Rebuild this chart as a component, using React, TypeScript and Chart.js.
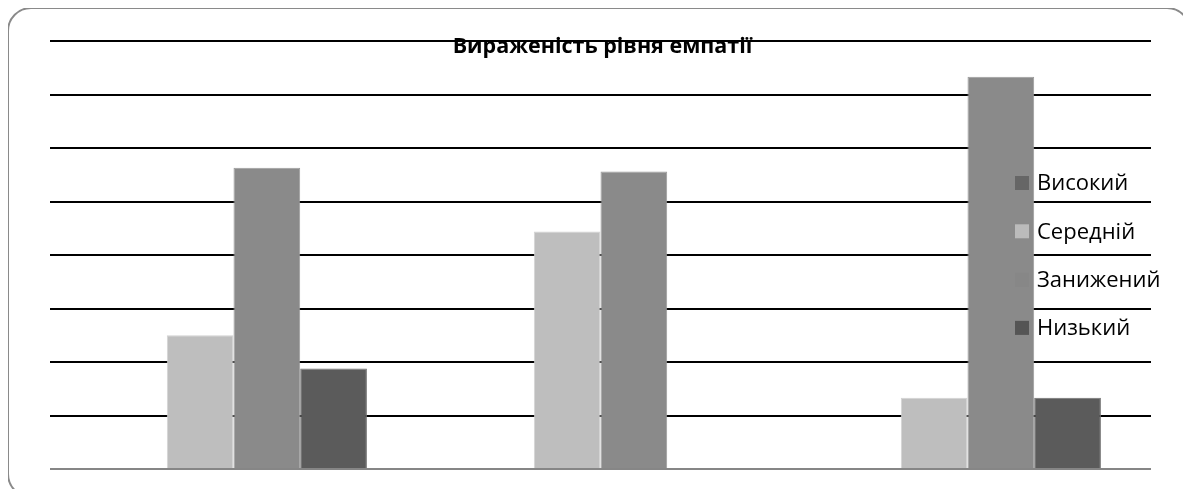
import React, { useEffect, useRef } from "react";
import { Chart, registerables } from "chart.js";

Chart.register(...registerables);

const categories = ["Група 1", "Група 2", "Група 3"];
const seriesNames = ["Високий", "Середній", "Занижений", "Низький"];
const visokyi = [0, 0, 0];
const serednii = [25, 44.4, 13.3];
const zanyzhenyi = [56.3, 55.6, 73.3];
const nyzkyi = [18.8, 0, 13.3];
const seriesValues = [visokyi, serednii, zanyzhenyi, nyzkyi];
const yTicks = [0, 10, 20, 30, 40, 50, 60, 70, 80];
const chartTitle = "Вираженість рівня емпатії";

const barColors = ["#676767", "#bebebe", "#8a8a8a", "#5b5b5b"];
const barBorders = ["#7a7a7a", "#d2d2d2", "#9a9a9a", "#707070"];
const legendColors = ["#666666", "#bbbbbb", "#878787", "#555555"];

const FONT = "'Open Sans', 'DejaVu Sans', sans-serif";

const overlayPlugin = {
  id: "overlay",
  afterDraw(chart: any) {
    const ctx = chart.ctx as CanvasRenderingContext2D;
    const area = chart.chartArea;
    ctx.save();
    // title (over the top gridline)
    ctx.fillStyle = "#000";
    ctx.font = `bold 21.5px ${FONT}`;
    ctx.textAlign = "center";
    ctx.textBaseline = "middle";
    ctx.fillText(chartTitle, (area.left + area.right) / 2 + 2, area.top + 6);
    // legend (inside plot area, right side)
    ctx.font = `22px ${FONT}`;
    ctx.textAlign = "left";
    const lx = 1015;
    const ly = 183;
    const step = 48.3;
    seriesNames.forEach((name, i) => {
      const cy = ly + i * step;
      ctx.fillStyle = legendColors[i];
      ctx.fillRect(lx, cy - 7, 14, 14);
      ctx.fillStyle = "#000";
      ctx.fillText(name, lx + 22, cy + 1);
    });
    ctx.restore();
  },
};

export default function App() {
  const ref = useRef<HTMLCanvasElement | null>(null);

  useEffect(() => {
    if (!ref.current) return;
    const chart = new Chart(ref.current, {
      type: "bar",
      data: {
        labels: categories,
        datasets: seriesNames.map((name, i) => ({
          label: name,
          data: seriesValues[i],
          backgroundColor: barColors[i],
          borderColor: barBorders[i],
          borderWidth: 1,
          categoryPercentage: 0.727,
          barPercentage: 1,
        })),
      },
      options: {
        responsive: false,
        animation: false,
        devicePixelRatio: 1,
        layout: { padding: { left: 50, right: 40, top: 41, bottom: 28 } },
        plugins: {
          legend: { display: false },
          title: { display: false },
          tooltip: { enabled: false },
        },
        scales: {
          x: {
            display: false,
          },
          y: {
            display: true,
            min: yTicks[0],
            max: yTicks[yTicks.length - 1],
            afterBuildTicks: (axis: any) => {
              axis.ticks = yTicks.map((v) => ({ value: v }));
            },
            ticks: { display: false },
            border: { display: false },
            grid: {
              drawTicks: false,
              lineWidth: 2,
              color: (c: any) => (c.tick && c.tick.value === 0 ? "#868686" : "#000000"),
            },
          },
        },
      },
      plugins: [overlayPlugin],
    });
    return () => chart.destroy();
  }, []);

  return (
    <div style={{ position: "relative", margin: "-8px", width: 1191, height: 497, overflow: "hidden", background: "#fff" }}>
      <div
        style={{
          position: "absolute",
          left: 7,
          top: 7,
          width: 1184,
          height: 491,
          boxSizing: "border-box",
          border: "2px solid #8a8a8a",
          borderRadius: 24,
        }}
      />
      <canvas ref={ref} width={1191} height={497} style={{ position: "absolute", left: 0, top: 0 }} />
    </div>
  );
}
